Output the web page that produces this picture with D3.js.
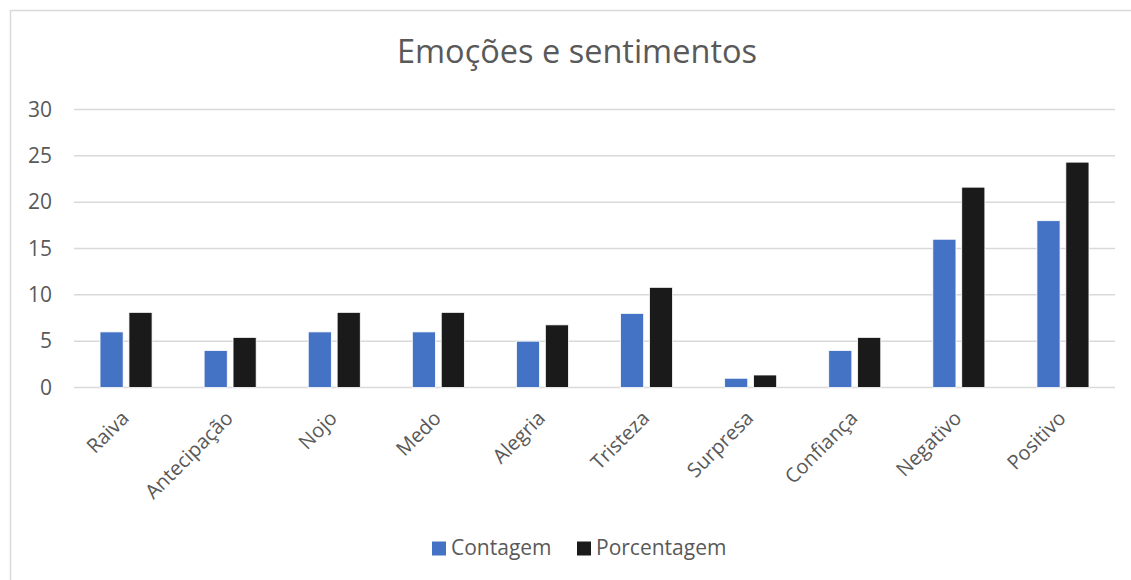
<!DOCTYPE html>
<html>
<head>
<meta charset="utf-8">
<script src="https://cdn.jsdelivr.net/npm/d3@7"></script>
<style>
  html, body { margin: 0; padding: 0; background: #fff; }
  svg { display: block; font-family: "Open Sans", "Noto Sans", sans-serif; }
</style>
</head>
<body>
<svg id="chart" width="1131" height="580"></svg>
<script>
// Categories and series values
const categories = ["Raiva", "Antecipação", "Nojo", "Medo", "Alegria", "Tristeza", "Surpresa", "Confiança", "Negativo", "Positivo"];
const seriesNames = ["Contagem", "Porcentagem"];
const contagem = [6, 4, 6, 6, 5, 8, 1, 4, 16, 18];
const porcentagem = [8.11, 5.41, 8.11, 8.11, 6.76, 10.81, 1.35, 5.41, 21.62, 24.32];
const yTicks = [0, 5, 10, 15, 20, 25, 30];
const colors = ["#4472C4", "#1a1a1a"];

const rows = categories.map((c, i) => ({ category: c, values: [contagem[i], porcentagem[i]] }));

const svg = d3.select("#chart");

// Chart frame
svg.append("rect")
  .attr("x", 10.5).attr("y", 10.5)
  .attr("width", 1140).attr("height", 600)
  .attr("fill", "#fff")
  .attr("stroke", "#d9d9d9").attr("stroke-width", 1.5);

// Title
svg.append("text")
  .attr("x", 577).attr("y", 63)
  .attr("text-anchor", "middle")
  .attr("fill", "#595959")
  .attr("font-size", 32.5)
  .text("Emoções e sentimentos");

const x0 = d3.scaleBand().domain(categories).range([74, 1115]).paddingInner(0.5).paddingOuter(0.25);
const x1 = d3.scaleBand().domain(seriesNames).range([0, x0.bandwidth()]).paddingInner(0.2);
const y = d3.scaleLinear().domain([0, 30]).range([387.5, 109.5]);

// Gridlines
svg.append("g")
  .selectAll("line")
  .data(yTicks)
  .join("line")
  .attr("x1", 74).attr("x2", 1115)
  .attr("y1", d => y(d)).attr("y2", d => y(d))
  .attr("stroke", "#d9d9d9").attr("stroke-width", 1.5);

// Y axis labels
const yAxis = d3.axisLeft(y).tickValues(yTicks).tickSize(0).tickPadding(0);
const gy = svg.append("g").attr("transform", "translate(52,0)").call(yAxis);
gy.select(".domain").remove();
gy.selectAll("text")
  .attr("fill", "#595959")
  .attr("font-size", 21)
  .attr("font-family", "Open Sans, Noto Sans, sans-serif");

// Bars
const groups = svg.append("g")
  .selectAll("g")
  .data(rows)
  .join("g")
  .attr("transform", d => `translate(${x0(d.category)},0)`);

groups.selectAll("rect")
  .data(d => d.values.map((v, j) => ({ series: seriesNames[j], value: v, j })))
  .join("rect")
  .attr("x", d => x1(d.series))
  .attr("width", x1.bandwidth())
  .attr("y", d => y(d.value))
  .attr("height", d => y(0) - y(d.value))
  .attr("fill", d => colors[d.j])
  .attr("stroke", "#fff").attr("stroke-width", 0.8);

// X axis category labels, rotated
const xAxis = d3.axisBottom(x0).tickSize(0).tickPadding(0);
const gx = svg.append("g").attr("transform", "translate(0,387.5)").call(xAxis);
gx.select(".domain").remove();
gx.selectAll("text")
  .attr("fill", "#595959")
  .attr("font-size", 20)
  .attr("font-family", "Open Sans, Noto Sans, sans-serif")
  .attr("text-anchor", "end")
  .attr("dy", 0)
  .attr("transform", "translate(4,32) rotate(-45)");

// Legend
const legendItems = [
  { name: seriesNames[0], color: colors[0], x: 432 },
  { name: seriesNames[1], color: colors[1], x: 577 }
];
const legend = svg.append("g");
legendItems.forEach(it => {
  legend.append("rect")
    .attr("x", it.x).attr("y", 541.5)
    .attr("width", 14).attr("height", 14)
    .attr("fill", it.color);
  legend.append("text")
    .attr("x", it.x + 19).attr("y", 555)
    .attr("fill", "#595959")
    .attr("font-size", 21)
    .text(it.name);
});
</script>
</body>
</html>
